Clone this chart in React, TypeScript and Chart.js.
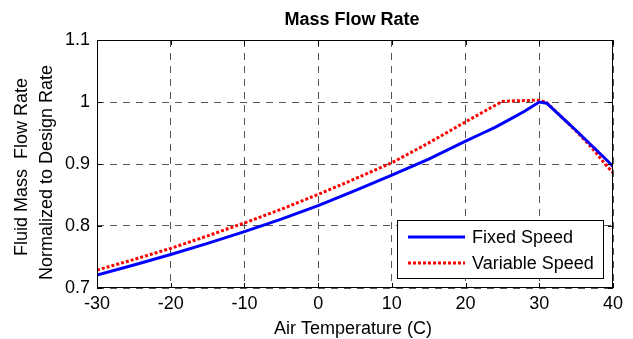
import React, { useEffect, useRef } from "react";
import { Chart, registerables } from "chart.js";

Chart.register(...registerables);

const titleText = "Mass Flow Rate";
const xTitle = "Air Temperature (C)";
const yTitleLines = ["Fluid Mass  Flow Rate", "Normalized to Design Rate"];

const fixedTemps = [-30, -25, -20, -15, -10, -5, 0, 5, 10, 15, 20, 22, 24, 26, 28, 30, 31, 33, 35, 37, 39, 40];
const fixedFlow = [0.721, 0.737, 0.754, 0.772, 0.791, 0.811, 0.833, 0.857, 0.882, 0.908, 0.937, 0.948, 0.959, 0.972, 0.985, 1.0, 0.998, 0.976, 0.954, 0.931, 0.908, 0.896];

const variableTemps = [-30, -25, -20, -15, -10, -5, 0, 5, 10, 15, 20, 23, 25, 27, 30, 31, 33, 35, 37, 39, 40];
const variableFlow = [0.729, 0.746, 0.764, 0.784, 0.805, 0.827, 0.851, 0.876, 0.902, 0.934, 0.968, 0.988, 1.001, 1.002, 1.003, 0.999, 0.976, 0.953, 0.928, 0.899, 0.886];

const seriesNames = ["Fixed Speed", "Variable Speed"];

const FONT = "'Liberation Sans', Arial, Helvetica, sans-serif";

const decorPlugin = {
  id: "decor",
  afterDraw(chart: any) {
    const ctx = chart.ctx as CanvasRenderingContext2D;
    const a = chart.chartArea;
    ctx.save();
    // box
    ctx.strokeStyle = "#000";
    ctx.lineWidth = 1;
    ctx.setLineDash([]);
    ctx.strokeRect(a.left + 0.5, a.top + 0.5, a.right - a.left - 1, a.bottom - a.top - 1);

    // inward tick marks (all four sides)
    const tl = 5;
    ctx.beginPath();
    chart.scales.x.ticks.forEach((t: any) => {
      const px = Math.round(chart.scales.x.getPixelForValue(t.value)) + 0.5;
      ctx.moveTo(px, a.bottom);
      ctx.lineTo(px, a.bottom - tl);
      ctx.moveTo(px, a.top);
      ctx.lineTo(px, a.top + tl);
    });
    chart.scales.y.ticks.forEach((t: any) => {
      const py = Math.round(chart.scales.y.getPixelForValue(t.value)) + 0.5;
      ctx.moveTo(a.left, py);
      ctx.lineTo(a.left + tl, py);
      ctx.moveTo(a.right, py);
      ctx.lineTo(a.right - tl, py);
    });
    ctx.stroke();

    // title
    ctx.fillStyle = "#000";
    ctx.font = `bold 18px ${FONT}`;
    ctx.textAlign = "center";
    ctx.textBaseline = "alphabetic";
    ctx.fillText(titleText, 352, 25);

    // x title
    ctx.font = `18px ${FONT}`;
    ctx.fillText(xTitle, 353, 334);

    // y title
    ctx.save();
    ctx.translate(27, 167);
    ctx.rotate(-Math.PI / 2);
    ctx.fillText(yTitleLines[0], 0, 0);
    ctx.restore();
    ctx.save();
    ctx.translate(51.5, 172.5);
    ctx.rotate(-Math.PI / 2);
    ctx.fillText(yTitleLines[1], 0, 0);
    ctx.restore();

    // legend
    const lx = 397, ly = 220, lw = 206, lh = 58;
    ctx.fillStyle = "#fff";
    ctx.fillRect(lx, ly, lw, lh);
    ctx.strokeStyle = "#000";
    ctx.lineWidth = 1;
    ctx.strokeRect(lx + 0.5, ly + 0.5, lw, lh);
    const rows = [237, 263];
    chart.data.datasets.forEach((ds: any, i: number) => {
      const y = rows[i];
      ctx.strokeStyle = ds.borderColor;
      ctx.lineWidth = ds.borderWidth;
      ctx.setLineDash(ds.borderDash || []);
      ctx.beginPath();
      ctx.moveTo(408, y);
      ctx.lineTo(465, y);
      ctx.stroke();
      ctx.setLineDash([]);
      ctx.fillStyle = "#000";
      ctx.font = `18px ${FONT}`;
      ctx.textAlign = "left";
      ctx.textBaseline = "middle";
      ctx.fillText(ds.label, 472, y + 1);
    });
    ctx.restore();
  },
};

export default function App() {
  const ref = useRef<HTMLCanvasElement>(null);
  useEffect(() => {
    document.body.style.margin = "0";
    const chart = new Chart(ref.current!, {
      type: "line",
      data: {
        datasets: [
          {
            label: seriesNames[0],
            data: fixedTemps.map((t, i) => ({ x: t, y: fixedFlow[i] })),
            borderColor: "#0000ff",
            borderWidth: 3,
            pointRadius: 0,
            fill: false,
            tension: 0,
          },
          {
            label: seriesNames[1],
            data: variableTemps.map((t, i) => ({ x: t, y: variableFlow[i] })),
            borderColor: "#ff0000",
            borderWidth: 3,
            borderDash: [3, 2],
            pointRadius: 0,
            fill: false,
            tension: 0,
          },
        ],
      },
      options: {
        animation: false,
        responsive: false,
        layout: { padding: { left: 0, right: 20, top: 40, bottom: 0 } },
        plugins: { legend: { display: false }, title: { display: false }, tooltip: { enabled: false } },
        scales: {
          x: {
            type: "linear",
            min: -30,
            max: 40,
            afterFit: (s: any) => { s.height = 51; },
            ticks: { stepSize: 10, color: "#000", font: { family: FONT, size: 18 }, padding: 5, maxRotation: 0 },
            grid: { color: "#555", drawTicks: false, lineWidth: 1 },
            border: { display: false, dash: [7, 6] } as any,
          },
          y: {
            min: 0.7,
            max: 1.1,
            afterFit: (s: any) => { s.width = 97; },
            ticks: {
              stepSize: 0.1,
              color: "#000",
              font: { family: FONT, size: 18 },
              padding: 7,
              callback: (v: any) => String(Number(Number(v).toFixed(1))),
            },
            grid: { color: "#555", drawTicks: false, lineWidth: 1 },
            border: { display: false, dash: [7, 6] } as any,
          },
        },
      },
      plugins: [decorPlugin],
    });
    return () => chart.destroy();
  }, []);
  return (
    <div style={{ position: "absolute", left: 0, top: 0, width: 633, height: 339, background: "#fff" }}>
      <canvas ref={ref} width={633} height={339} />
    </div>
  );
}
